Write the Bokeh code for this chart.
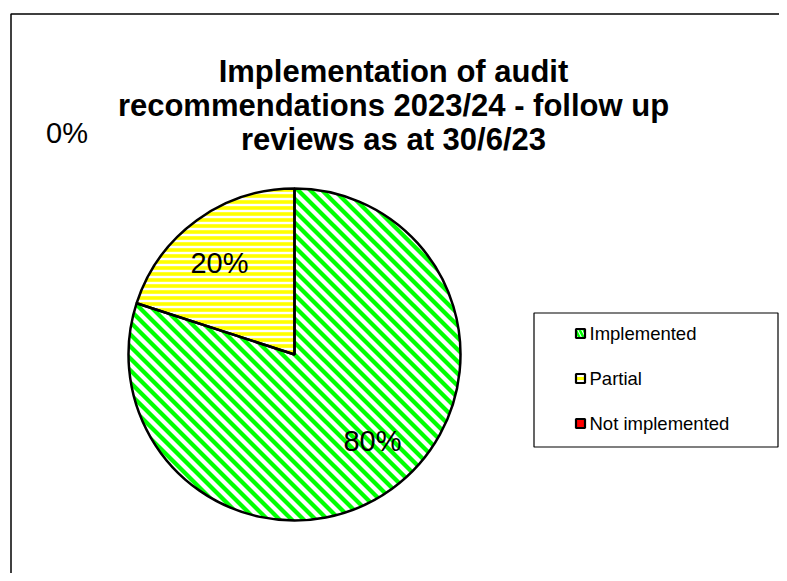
from math import pi, sqrt
from bokeh.plotting import figure
from bokeh.models import Range1d
from bokeh.core.properties import value
from bokeh.embed import file_html
from bokeh.resources import INLINE

# ---- data ----
title_lines = ["Implementation of audit",
               "recommendations 2023/24 - follow up",
               "reviews as at 30/6/23"]
categories = ["Implemented", "Partial", "Not implemented"]
values = [80, 20, 0]
colors = ["#00FF00", "#FFFF00", "#FF0000"]
patterns = ["diag45", "horizontal_line", None]

# ---- layout (picture pixels) ----
W, H = 779, 573


def sx(px):
    return px


def sy(py):
    return H - py


FONT = value("Liberation Sans")

p = figure(width=W, height=H, output_backend="svg", toolbar_location=None,
           x_range=Range1d(0, W), y_range=Range1d(0, H), min_border=0,
           outline_line_color=None, background_fill_color="white",
           border_fill_color="white")
p.axis.visible = False
p.xgrid.visible = False
p.ygrid.visible = False

# chart frame (top and left edges visible; rest extends beyond the window)
p.line(x=[sx(10.5), sx(10.5), sx(800)], y=[sy(600), sy(13.5), sy(13.5)],
       line_color="black", line_width=1.5)

# title
for i, line in enumerate(title_lines):
    p.text(x=[sx(393)], y=[sy(71 + i * 34)], text=[line],
           text_font=FONT, text_font_style="bold", text_font_size="31px",
           text_align="center", text_baseline="alphabetic", text_color="black")

# ---- pie ----
cx, cy, R = sx(294), sy(354), 166
total = float(sum(values))
angles = []
a = pi / 2
for v in values:
    b = a - v / total * 2 * pi
    angles.append((b, a))          # (start, end) drawn clockwise from 12 o'clock
    a = b

STRIPE_PERIOD, STRIPE_W = 12, 6     # 45-degree stripe texture (px)


def stripe_texture(col):
    """45-degree '\\' stripes over the pie disc (masked afterwards)."""
    xs, ys = [], []
    n = int(R * sqrt(2) / STRIPE_PERIOD) + 1
    for k in range(-n, n + 1):
        c = k * STRIPE_PERIOD
        if c * c / 2 >= R * R:
            continue
        d = (sqrt(R * R - c * c / 2) + 4) / sqrt(2)
        fx, fy = cx + c / 2, cy + c / 2
        xs.append([fx - d, fx + d])
        ys.append([fy + d, fy - d])
    p.multi_line(xs=xs, ys=ys, line_color=col, line_width=STRIPE_W / sqrt(2),
                 line_cap="butt")
    p.annulus(x=cx, y=cy, inner_radius=R, outer_radius=R + 10,
              fill_color="white", line_color=None)


# 1) diagonal-striped slices first (background + stripes + mask)
for v, col, pat, (s, e) in zip(values, colors, patterns, angles):
    if v > 0 and pat == "diag45":
        p.wedge(x=cx, y=cy, radius=R, start_angle=s, end_angle=e,
                fill_color="white", line_color=None)
        stripe_texture(col)

# 2) other slices on top
for v, col, pat, (s, e) in zip(values, colors, patterns, angles):
    if v > 0 and pat != "diag45":
        if pat is None:
            kw = dict(fill_color=col)
        else:
            kw = dict(fill_color="white", hatch_pattern=pat, hatch_color=col,
                      hatch_scale=6, hatch_weight=3.6)
        p.wedge(x=cx, y=cy, radius=R, start_angle=s, end_angle=e,
                line_color=None, **kw)

# 3) slice outlines
for v, (s, e) in zip(values, angles):
    if v > 0:
        p.wedge(x=cx, y=cy, radius=R, start_angle=s, end_angle=e,
                fill_color=None, line_color="black", line_width=2.5)

# 4) data labels
label_pos = [(sx(372), sy(440)), (sx(219), sy(262)), (sx(66.5), sy(132))]
for v, (lx, ly) in zip(values, label_pos):
    p.text(x=[lx], y=[ly], text=[f"{v}%"], text_font=FONT,
           text_font_size="29px", text_align="center", text_baseline="middle",
           text_color="black")

# ---- legend ----
p.quad(left=[sx(533.5)], right=[sx(777.5)], bottom=[sy(446.5)], top=[sy(312.5)],
       fill_color="white", line_color="black", line_width=1.2)
item_y = [333, 378, 423]
for cat, col, pat, iy in zip(categories, colors, patterns, item_y):
    if pat is None:
        kw = dict(fill_color=col)
    elif pat == "diag45":
        kw = dict(fill_color="white", hatch_pattern="left_diagonal_line",
                  hatch_color=col, hatch_scale=8, hatch_weight=2.5)
    else:
        kw = dict(fill_color="white", hatch_pattern=pat, hatch_color=col,
                  hatch_scale=5, hatch_weight=3)
    p.rect(x=[sx(580)], y=[sy(iy)], width=9, height=9, line_color="black",
           line_width=2.2, **kw)
    p.text(x=[sx(589)], y=[sy(iy)], text=[cat], text_font=FONT,
           text_font_size="18.5px", text_align="left", text_baseline="middle",
           text_color="black")

open("out.html", "w").write(file_html(p, INLINE))
